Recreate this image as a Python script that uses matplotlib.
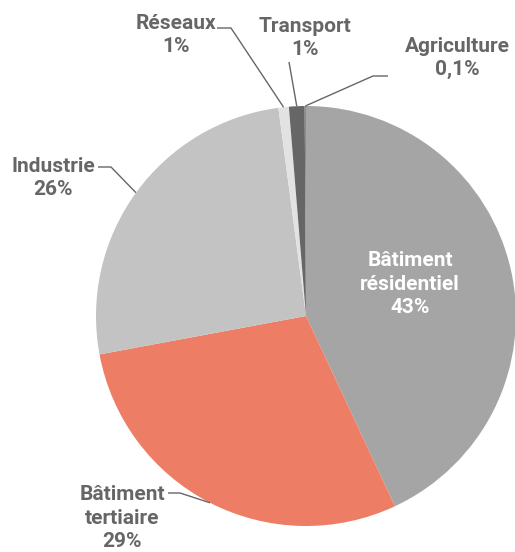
import matplotlib.pyplot as plt
import numpy as np

# Data
labels = ["Bâtiment\nrésidentiel", "Bâtiment\ntertiaire", "Industrie", "Réseaux", "Transport", "Agriculture"]
pct_labels = ["43%", "29%", "26%", "1%", "1%", "0,1%"]
values = [43.0, 29.0, 25.8, 0.8, 1.2, 0.1]
colors = ["#a5a5a5", "#ed7d64", "#c3c3c3", "#e2e2e2", "#666666", "#8c8c8c"]

W, H = 515, 552
fig = plt.figure(figsize=(W / 100, H / 100), dpi=100)
ax = fig.add_axes([0, 0, 1, 1])

cx, cy, r = 306, H - 316, 210
wedges, _ = ax.pie(values, colors=colors, startangle=90, counterclock=False,
                   center=(cx, cy), radius=r, frame=True,
                   wedgeprops=dict(linewidth=0))
ax.set_xlim(0, W)
ax.set_ylim(0, H)
ax.set_aspect("equal")
ax.axis("off")

txt_color = "#666666"
font = dict(family=["Roboto", "DejaVu Sans"], fontweight="bold", fontsize=15)


def anchor(w, rad):
    a = np.deg2rad((w.theta1 + w.theta2) / 2)
    return cx + rad * np.cos(a), cy + rad * np.sin(a)


# inside label for résidentiel
ax.text(410, H - 284, labels[0] + "\n" + pct_labels[0],
        ha="center", va="center", color="white", linespacing=1.3, **font)

# outside labels: text centre and the horizontal piece of the leader line
outside = {
    1: dict(tx=122, ty=H - 518, line=[(168, H - 493), (180, H - 493)]),
    2: dict(tx=53, ty=H - 178, line=[(98, H - 167), (111, H - 167)]),
    3: dict(tx=176, ty=H - 35, line=[(217, H - 28), (231, H - 28)]),
    4: dict(tx=305, ty=H - 38, line=[(289, H - 62), (289, H - 62)]),
    5: dict(tx=457, ty=H - 58, line=[(388, H - 76), (373, H - 76)]),
}

for i, o in outside.items():
    ax.text(o["tx"], o["ty"], labels[i] + "\n" + pct_labels[i],
            ha="center", va="center", color=txt_color, linespacing=1.3, **font)
    ax_, ay_ = anchor(wedges[i], r)
    xs = [o["line"][0][0], o["line"][1][0], ax_]
    ys = [o["line"][0][1], o["line"][1][1], ay_]
    ax.plot(xs, ys, color=txt_color, linewidth=1.0, solid_capstyle="butt")

fig.savefig("out.png", dpi=100)
